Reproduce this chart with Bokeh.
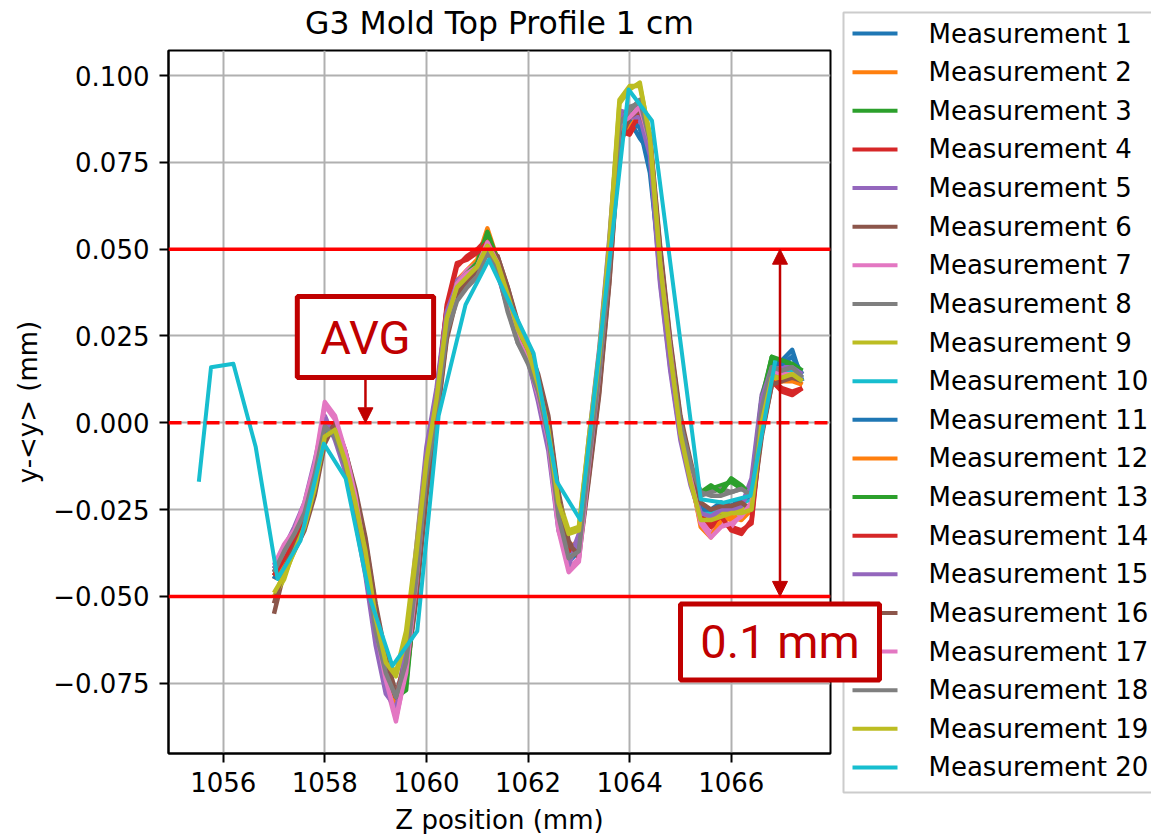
from bokeh.plotting import figure
from bokeh.models import (Span, Label, Arrow, NormalHead,
                          FixedTicker, CustomJSTickFormatter, Range1d)
from bokeh.core.properties import value
from bokeh.embed import file_html
from bokeh.resources import INLINE

title_text = "G3 Mold Top Profile 1 cm"
x_label = "Z position (mm)"
y_label = "y-<y> (mm)"
x_ticks = [1056, 1058, 1060, 1062, 1064, 1066]
y_ticks = [-0.075, -0.050, -0.025, 0.000, 0.025, 0.050, 0.075, 0.100]
series_names = ["Measurement %d" % i for i in range(1, 21)]

z_pos = [1057.0, 1057.2, 1057.4, 1057.6, 1057.8, 1058.0, 1058.2, 1058.4, 1058.6, 1058.8,
         1059.0, 1059.2, 1059.4, 1059.6, 1059.8, 1060.0, 1060.2, 1060.4, 1060.6, 1060.8,
         1061.0, 1061.2, 1061.4, 1061.6, 1061.8, 1062.0, 1062.2, 1062.4, 1062.6, 1062.8,
         1063.0, 1063.2, 1063.4, 1063.6, 1063.8, 1064.0, 1064.2, 1064.4, 1064.6, 1064.8,
         1065.0, 1065.2, 1065.4, 1065.6, 1065.8, 1066.0, 1066.2, 1066.4, 1066.6, 1066.8,
         1067.0, 1067.2, 1067.4]

m1 = [-0.043,-0.038,-0.035,-0.026,-0.015,-0.002,-0.004,-0.012,-0.025,-0.040,
      -0.060,-0.074,-0.085,-0.070,-0.045,-0.013,0.006,0.030,0.040,0.043,
      0.046,0.052,0.045,0.035,0.025,0.019,0.009,-0.004,-0.028,-0.040,
      -0.037,-0.011,0.014,0.046,0.085,0.087,0.082,0.078,0.044,0.018,
      -0.003,-0.015,-0.026,-0.027,-0.023,-0.025,-0.022,-0.021,0.004,0.016,
      0.018,0.021,0.012]
m2 = [-0.045,-0.040,-0.033,-0.028,-0.017,-0.002,-0.002,-0.010,-0.023,-0.038,
      -0.057,-0.073,-0.084,-0.069,-0.046,-0.015,0.004,0.031,0.041,0.044,
      0.047,0.056,0.047,0.037,0.027,0.021,0.011,-0.002,-0.025,-0.036,
      -0.034,-0.009,0.016,0.048,0.087,0.084,0.089,0.079,0.045,0.019,
      -0.002,-0.016,-0.029,-0.032,-0.027,-0.028,-0.026,-0.024,0.001,0.013,
      0.012,0.013,0.011]
m3 = [-0.042,-0.038,-0.034,-0.026,-0.016,0.000,-0.002,-0.011,-0.024,-0.039,
      -0.059,-0.072,-0.080,-0.075,-0.047,-0.014,0.006,0.030,0.040,0.043,
      0.046,0.054,0.047,0.036,0.026,0.020,0.010,-0.003,-0.027,-0.038,
      -0.036,-0.010,0.015,0.047,0.086,0.089,0.091,0.081,0.047,0.021,
      0.000,-0.013,-0.021,-0.019,-0.018,-0.017,-0.019,-0.020,0.006,0.019,
      0.017,0.016,0.014]
m4 = [-0.044,-0.039,-0.034,-0.028,-0.017,-0.001,-0.002,-0.010,-0.023,-0.038,
      -0.058,-0.073,-0.080,-0.069,-0.043,-0.012,0.007,0.033,0.045,0.048,
      0.050,0.053,0.047,0.037,0.027,0.021,0.011,-0.002,-0.026,-0.037,
      -0.035,-0.010,0.015,0.047,0.084,0.083,0.088,0.080,0.046,0.019,
      -0.002,-0.016,-0.028,-0.030,-0.028,-0.030,-0.031,-0.029,-0.001,0.012,
      0.010,0.009,0.010]
m5 = [-0.041,-0.036,-0.030,-0.023,-0.011,0.002,-0.005,-0.014,-0.028,-0.044,
      -0.064,-0.078,-0.082,-0.064,-0.036,-0.007,0.010,0.033,0.041,0.043,
      0.046,0.050,0.043,0.033,0.024,0.018,0.006,-0.008,-0.031,-0.040,
      -0.032,-0.004,0.021,0.053,0.090,0.089,0.087,0.076,0.040,0.015,
      -0.005,-0.018,-0.027,-0.027,-0.025,-0.025,-0.024,-0.016,0.008,0.017,
      0.016,0.016,0.014]
m6 = [-0.055,-0.043,-0.037,-0.031,-0.021,-0.006,0.000,-0.008,-0.019,-0.033,
      -0.052,-0.067,-0.078,-0.073,-0.051,-0.021,0.000,0.024,0.036,0.041,
      0.044,0.050,0.048,0.039,0.029,0.022,0.014,0.002,-0.020,-0.034,
      -0.039,-0.016,0.008,0.040,0.080,0.087,0.091,0.083,0.051,0.024,
      0.002,-0.011,-0.023,-0.026,-0.024,-0.024,-0.023,-0.026,-0.004,0.011,
      0.013,0.014,0.012]
m7 = [-0.043,-0.036,-0.031,-0.024,-0.013,0.005,0.001,-0.009,-0.022,-0.040,
      -0.060,-0.075,-0.086,-0.071,-0.045,-0.013,0.005,0.029,0.040,0.044,
      0.046,0.052,0.046,0.035,0.024,0.018,0.009,-0.005,-0.030,-0.042,
      -0.039,-0.012,0.014,0.046,0.085,0.087,0.092,0.081,0.046,0.020,
      -0.002,-0.016,-0.028,-0.032,-0.029,-0.030,-0.026,-0.023,0.002,0.015,
      0.014,0.015,0.013]
m8 = [-0.042,-0.038,-0.033,-0.026,-0.015,-0.002,-0.003,-0.012,-0.025,-0.040,
      -0.059,-0.071,-0.078,-0.068,-0.044,-0.014,0.004,0.027,0.036,0.040,
      0.043,0.049,0.044,0.033,0.023,0.018,0.009,-0.004,-0.026,-0.038,
      -0.036,-0.011,0.014,0.046,0.087,0.091,0.092,0.080,0.045,0.020,
      0.000,-0.012,-0.021,-0.020,-0.019,-0.020,-0.019,-0.020,0.004,0.016,
      0.015,0.015,0.013]
m9 = [-0.050,-0.045,-0.036,-0.029,-0.018,-0.003,-0.001,-0.010,-0.022,-0.036,
      -0.055,-0.068,-0.072,-0.060,-0.036,-0.010,0.008,0.031,0.040,0.043,
      0.046,0.052,0.047,0.038,0.028,0.022,0.012,-0.001,-0.022,-0.031,
      -0.030,-0.004,0.020,0.052,0.093,0.097,0.097,0.083,0.047,0.021,
      -0.002,-0.016,-0.027,-0.027,-0.026,-0.026,-0.025,-0.024,0.001,0.014,
      0.013,0.014,0.012]
m10 = [-0.044,-0.040,-0.034,-0.027,-0.016,-0.002,-0.003,-0.011,-0.024,-0.039,
       -0.058,-0.072,-0.080,-0.068,-0.044,-0.014,0.005,0.029,0.039,0.042,
       0.045,0.050,0.045,0.036,0.026,0.020,0.010,-0.003,-0.026,-0.038,
       -0.035,-0.010,0.015,0.047,0.086,0.088,0.089,0.080,0.046,0.020,
       -0.001,-0.014,-0.025,-0.026,-0.024,-0.024,-0.023,-0.022,0.003,0.015,
       0.014,0.015,0.013]
m11 = [-0.045,-0.039,-0.033,-0.027,-0.016,-0.001,-0.004,-0.012,-0.024,-0.039,
       -0.058,-0.073,-0.083,-0.069,-0.044,-0.013,0.006,0.030,0.040,0.043,
       0.046,0.051,0.046,0.036,0.025,0.019,0.009,-0.003,-0.026,-0.039,
       -0.037,-0.010,0.015,0.046,0.086,0.087,0.085,0.072,0.045,0.019,
       -0.002,-0.014,-0.025,-0.025,-0.023,-0.024,-0.022,-0.021,0.005,0.017,
       0.017,0.019,0.014]
m12 = [-0.044,-0.040,-0.034,-0.027,-0.017,-0.001,-0.003,-0.011,-0.024,-0.039,
       -0.058,-0.073,-0.082,-0.069,-0.045,-0.014,0.005,0.030,0.040,0.043,
       0.046,0.054,0.046,0.036,0.026,0.020,0.010,-0.003,-0.026,-0.037,
       -0.035,-0.010,0.015,0.047,0.085,0.085,0.089,0.080,0.046,0.019,
       -0.003,-0.015,-0.030,-0.033,-0.028,-0.027,-0.028,-0.025,0.001,0.013,
       0.012,0.012,0.011]
m13 = [-0.043,-0.039,-0.034,-0.027,-0.016,-0.001,-0.002,-0.011,-0.024,-0.039,
       -0.058,-0.072,-0.079,-0.077,-0.046,-0.014,0.005,0.029,0.039,0.043,
       0.046,0.055,0.047,0.036,0.026,0.020,0.010,-0.003,-0.026,-0.037,
       -0.035,-0.010,0.015,0.047,0.086,0.088,0.090,0.080,0.046,0.020,
       -0.001,-0.013,-0.020,-0.018,-0.020,-0.016,-0.018,-0.021,0.007,0.019,
       0.018,0.017,0.015]
m14 = [-0.044,-0.039,-0.034,-0.027,-0.016,-0.001,-0.003,-0.011,-0.023,-0.038,
       -0.058,-0.072,-0.079,-0.068,-0.043,-0.012,0.007,0.034,0.046,0.047,
       0.049,0.052,0.047,0.036,0.026,0.020,0.010,-0.003,-0.026,-0.037,
       -0.035,-0.010,0.015,0.047,0.083,0.084,0.089,0.080,0.046,0.020,
       -0.001,-0.015,-0.027,-0.029,-0.027,-0.031,-0.032,-0.028,0.000,0.012,
       0.009,0.008,0.010]
m15 = [-0.042,-0.037,-0.031,-0.024,-0.012,0.001,-0.004,-0.013,-0.027,-0.043,
       -0.062,-0.077,-0.083,-0.066,-0.038,-0.009,0.009,0.032,0.040,0.043,
       0.045,0.051,0.044,0.034,0.024,0.018,0.007,-0.006,-0.030,-0.041,
       -0.033,-0.006,0.019,0.051,0.089,0.088,0.088,0.077,0.041,0.016,
       -0.004,-0.017,-0.026,-0.027,-0.025,-0.025,-0.024,-0.018,0.007,0.016,
       0.015,0.016,0.014]
m16 = [-0.052,-0.042,-0.036,-0.030,-0.020,-0.005,0.000,-0.008,-0.020,-0.034,
       -0.053,-0.068,-0.079,-0.072,-0.050,-0.020,0.001,0.025,0.037,0.041,
       0.044,0.050,0.048,0.039,0.028,0.022,0.013,0.001,-0.021,-0.035,
       -0.038,-0.015,0.009,0.041,0.081,0.088,0.090,0.082,0.050,0.023,
       0.001,-0.012,-0.023,-0.025,-0.024,-0.024,-0.023,-0.025,-0.003,0.011,
       0.012,0.013,0.012]
m17 = [-0.041,-0.035,-0.031,-0.023,-0.012,0.006,0.002,-0.008,-0.021,-0.039,
       -0.059,-0.074,-0.085,-0.072,-0.046,-0.013,0.004,0.028,0.040,0.043,
       0.045,0.052,0.046,0.035,0.024,0.018,0.008,-0.005,-0.031,-0.043,
       -0.040,-0.012,0.014,0.046,0.086,0.088,0.091,0.081,0.046,0.021,
       -0.002,-0.016,-0.029,-0.033,-0.030,-0.029,-0.027,-0.023,0.002,0.015,
       0.014,0.014,0.013]
m18 = [-0.043,-0.037,-0.032,-0.026,-0.015,-0.001,-0.004,-0.012,-0.026,-0.041,
       -0.060,-0.072,-0.079,-0.069,-0.045,-0.015,0.003,0.026,0.035,0.039,
       0.042,0.049,0.044,0.032,0.023,0.017,0.009,-0.004,-0.027,-0.039,
       -0.037,-0.011,0.014,0.045,0.086,0.090,0.093,0.081,0.045,0.020,
       0.000,-0.012,-0.020,-0.021,-0.021,-0.020,-0.019,-0.021,0.004,0.016,
       0.015,0.016,0.013]
m19 = [-0.049,-0.044,-0.037,-0.030,-0.019,-0.004,-0.002,-0.011,-0.023,-0.037,
       -0.056,-0.069,-0.073,-0.062,-0.038,-0.011,0.007,0.030,0.039,0.042,
       0.045,0.051,0.046,0.037,0.027,0.021,0.011,-0.002,-0.023,-0.032,
       -0.031,-0.005,0.019,0.051,0.092,0.096,0.098,0.082,0.046,0.020,
       -0.003,-0.017,-0.028,-0.028,-0.027,-0.026,-0.026,-0.025,0.000,0.013,
       0.013,0.014,0.012]

m20_z = [1055.52, 1055.76, 1056.20, 1056.64, 1057.07, 1057.52, 1057.98, 1058.41,
         1058.90, 1059.33, 1059.82, 1060.24, 1060.77, 1061.23, 1062.11, 1062.57,
         1063.03, 1063.98, 1064.44, 1065.40, 1065.85, 1066.38, 1066.87]
m20 = [-0.017, 0.016, 0.017, -0.007, -0.045, -0.034, -0.006, -0.016,
       -0.051, -0.070, -0.060, 0.002, 0.034, 0.047, 0.020, -0.017,
       -0.028, 0.096, 0.087, -0.022, -0.023, -0.021, 0.018]

tol_upper = 0.05
tol_lower = -0.05
avg_level = 0.0
avg_text = "AVG"
band_text = "0.1 mm"

palette = ["#1f77b4", "#ff7f0e", "#2ca02c", "#d62728", "#9467bd",
           "#8c564b", "#e377c2", "#7f7f7f", "#bcbd22", "#17becf"]
ANN = "#c00000"
FONT = "DejaVu Sans"
FS = "26px"

W, H = 1151, 834
FL, FR, FT, FB = 168, 830, 50, 753          # frame edges in pixels
X0, X1 = 1054.923, 1067.954                 # axis limits
Y0, Y1 = -0.09525, 0.10723


def dx(px):
    """pixel column -> data x (for placing texts / legend outside the axes)"""
    return X0 + (px - FL) * (X1 - X0) / (FR - FL)


def dy(py):
    """pixel row -> data y"""
    return Y1 - (py - FT) * (Y1 - Y0) / (FB - FT)


p = figure(width=W, height=H, x_range=Range1d(X0, X1), y_range=Range1d(Y0, Y1),
           output_backend="svg", toolbar_location=None,
           min_border_left=FL, min_border_right=W - FR,
           min_border_top=FT, min_border_bottom=H - FB)
p.background_fill_color = "white"
p.border_fill_color = "white"
p.outline_line_color = "black"
p.outline_line_width = 2

dense = [m1, m2, m3, m4, m5, m6, m7, m8, m9, m10,
         m11, m12, m13, m14, m15, m16, m17, m18, m19]
colors = [palette[i % 10] for i in range(20)]
for i, ys in enumerate(dense):
    p.line(z_pos, ys, line_color=colors[i], line_width=4.5, line_join="round")
p.line(m20_z, m20, line_color=colors[19], line_width=4, line_join="round")

for ax in (p.xaxis, p.yaxis):
    ax.axis_line_color = "black"
    ax.axis_line_width = 2
    ax.major_tick_line_color = "black"
    ax.major_tick_line_width = 2
    ax.major_tick_out = 9
    ax.major_tick_in = 0
    ax.minor_tick_line_color = None
    ax.major_label_text_font = FONT
    ax.major_label_text_font_size = FS
    ax.major_label_text_color = "black"
p.xaxis.ticker = FixedTicker(ticks=x_ticks)
p.yaxis.ticker = FixedTicker(ticks=y_ticks)
p.xaxis.major_label_standoff = 9
p.yaxis.major_label_standoff = 10
p.yaxis.formatter = CustomJSTickFormatter(
    code="return (tick < -1e-9 ? '\u2212' : '') + Math.abs(tick).toFixed(3);")
p.yaxis.axis_label = y_label
p.yaxis.axis_label_text_font = FONT
p.yaxis.axis_label_text_font_size = FS
p.yaxis.axis_label_text_font_style = "normal"
p.yaxis.axis_label_text_color = "black"
p.yaxis.axis_label_standoff = 7

p.grid.grid_line_color = "#b0b0b0"
p.grid.grid_line_width = 2

p.add_layout(Span(location=tol_upper, dimension="width", line_color="#ff0000", line_width=3.5))
p.add_layout(Span(location=tol_lower, dimension="width", line_color="#ff0000", line_width=3.5))
p.add_layout(Span(location=avg_level, dimension="width", line_color="#ff0000", line_width=3.5,
                  line_dash="13 6"))

p.add_layout(Arrow(end=NormalHead(size=15, fill_color=ANN, line_color=ANN),
                   x_start=1058.80, y_start=0.0130, x_end=1058.80, y_end=avg_level,
                   line_color=ANN, line_width=2.5))
p.add_layout(Arrow(start=NormalHead(size=15, fill_color=ANN, line_color=ANN),
                   end=NormalHead(size=15, fill_color=ANN, line_color=ANN),
                   x_start=1066.96, y_start=tol_lower, x_end=1066.96, y_end=tol_upper,
                   line_color=ANN, line_width=2.5))
p.add_layout(Label(x=1058.80, y=0.0247, text=avg_text, text_font="Roboto",
                   text_font_size="47px", text_color=ANN, text_align="center",
                   text_baseline="middle", border_line_color=ANN, border_line_width=5,
                   background_fill_color="white",
                   padding=dict(left=23, right=23, top=13, bottom=13)))

# title and x-axis title (overlay level, outside the axes box)
p.text(x=[(X0 + X1) / 2], y=[dy(22)], text=[title_text], text_font=value(FONT),
       text_font_size=value("31.5px"), text_align="center", text_baseline="middle",
       text_color="black", level="overlay")
p.text(x=[(X0 + X1) / 2], y=[dy(819)], text=[x_label], text_font=value(FONT),
       text_font_size=value(FS), text_align="center", text_baseline="middle",
       text_color="black", level="overlay")

# legend box to the right of the axes
p.rect(x=[dx(1002)], y=[dy(402)], width=[318], height=[780], width_units="screen",
       height_units="screen", fill_color="white", fill_alpha=0.85,
       line_color="#cccccc", line_width=2, level="overlay")
row_y = [dy(33 + i * 38.63) for i in range(20)]
p.segment(x0=[dx(852)] * 20, y0=row_y, x1=[dx(897)] * 20, y1=row_y,
          line_color=colors, line_width=4, level="overlay")
p.text(x=[dx(928)] * 20, y=row_y, text=series_names, text_font=value(FONT),
       text_font_size=value(FS), text_align="left", text_baseline="middle",
       text_color="black", level="overlay")

# "0.1 mm" box, drawn over the legend
p.rect(x=[1066.96], y=[-0.0631], width=[199], height=[76], width_units="screen",
       height_units="screen", fill_color="white", line_color=ANN, line_width=5,
       level="overlay")
p.text(x=[1066.96], y=[-0.0631], text=[band_text], text_font=value("Roboto"),
       text_font_size=value("47px"), text_align="center", text_baseline="middle",
       text_color=ANN, level="overlay")

open("out.html", "w").write(file_html(p, INLINE))
